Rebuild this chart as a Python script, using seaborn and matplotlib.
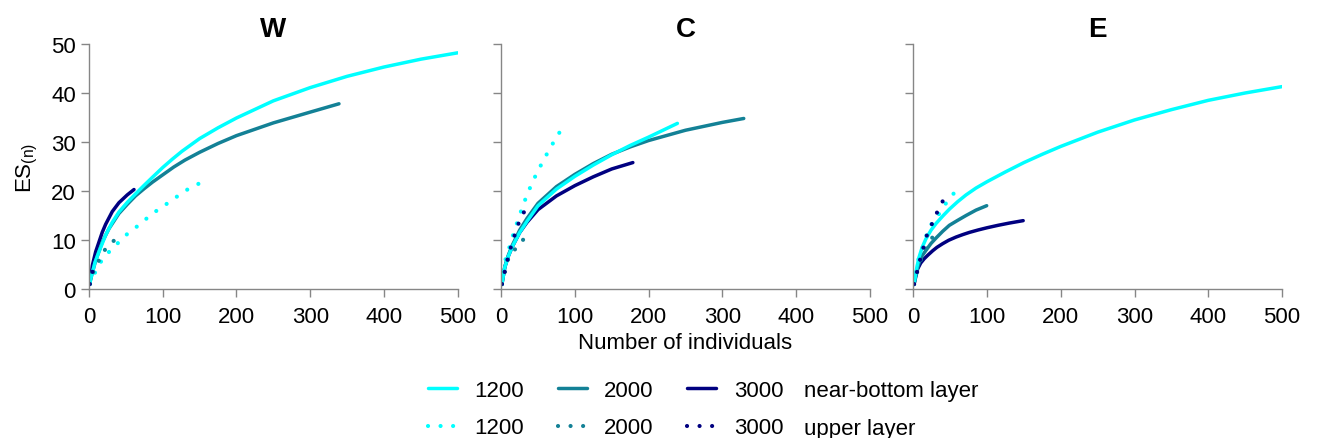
import numpy as np
import pandas as pd
import seaborn as sns
import matplotlib
matplotlib.use("Agg")
import matplotlib.pyplot as plt
from matplotlib.lines import Line2D

sns.set_style("ticks")
plt.rcParams['font.family'] = ['Liberation Sans', 'DejaVu Sans']
plt.rcParams['mathtext.fontset'] = 'custom'
plt.rcParams['mathtext.rm'] = 'Liberation Sans'
plt.rcParams['mathtext.it'] = 'Liberation Sans:italic'
plt.rcParams['text.color'] = 'black'
plt.rcParams['axes.labelcolor'] = 'black'

# colours per sampling depth
depths = ["1200", "2000", "3000"]
colors = {"1200": "#00ffff", "2000": "#138196", "3000": "#000080"}
panels = ["W", "C", "E"]

# ---- panel W ----
w_1200_nb_n = [1, 2, 5, 8, 13.5, 22.5, 31.5, 40.5, 52, 63, 75, 86, 100, 113, 126, 150, 175, 200, 250, 300, 350, 400, 450, 500]
w_1200_nb_y = [1, 1.9, 3.6, 5.4, 7.6, 11.0, 13.6, 15.7, 17.7, 19.4, 21.2, 22.8, 24.8, 26.5, 28.1, 30.7, 32.9, 34.9, 38.4, 41.1, 43.4, 45.3, 46.9, 48.2]
w_2000_nb_n = [1, 2, 5, 9, 18, 27, 40.5, 52, 63, 75, 86, 100, 115, 130, 150, 175, 200, 250, 300, 339]
w_2000_nb_y = [1, 1.9, 3.6, 5.8, 9.6, 12.3, 15.4, 17.3, 19.0, 20.5, 21.8, 23.3, 24.9, 26.3, 27.9, 29.7, 31.3, 33.9, 36.1, 37.8]
w_3000_nb_n = [1, 2, 4.5, 9, 13.5, 18, 22.5, 31.5, 40.5, 51.8, 61]
w_3000_nb_y = [1, 2.0, 4.8, 7.6, 9.6, 11.6, 13.2, 15.8, 17.6, 19.2, 20.3]
w_1200_up_n = [1, 8, 15.8, 26, 38, 50, 63, 75.7, 89, 102.7, 116, 129.7, 145, 160]
w_1200_up_y = [1, 3.3, 5.5, 7.4, 9.2, 11.0, 12.5, 14.1, 15.7, 17.1, 18.5, 20.0, 21.2, 22.35]
w_2000_up_n = [1, 6, 12.6, 21, 32.4, 46]
w_2000_up_y = [1, 3.6, 5.6, 7.9, 9.7, 11.3]
w_3000_up_n = [1, 5, 10]
w_3000_up_y = [1, 3.8, 5.5]

# ---- panel C ----
c_1200_nb_n = [1, 2, 5, 10, 15, 25, 35, 50, 75, 100, 125, 150, 175, 200, 239]
c_1200_nb_y = [1, 1.9, 4.5, 6.8, 8.6, 11.5, 13.8, 17.0, 20.4, 23.0, 25.3, 27.4, 29.3, 31.0, 33.8]
c_2000_nb_n = [1, 2, 5, 10, 15, 25, 35, 50, 75, 100, 125, 150, 175, 200, 250, 300, 329]
c_2000_nb_y = [1, 1.9, 4.6, 7.0, 8.9, 12.0, 14.4, 17.5, 20.9, 23.4, 25.6, 27.5, 29.0, 30.3, 32.4, 34.0, 34.8]
c_3000_nb_n = [1, 2, 5, 10, 15, 25, 35, 50, 75, 100, 125, 150, 178.6]
c_3000_nb_y = [1, 1.9, 4.5, 6.8, 8.6, 11.5, 13.6, 16.2, 19.0, 21.1, 22.9, 24.5, 25.8]
c_1200_up_n = [1, 5.4, 10.9, 15.4, 20.4, 25.8, 31.7, 38.1, 44.9, 52.6, 60.3, 68.5, 77.1, 86.6]
c_1200_up_y = [1, 5.8, 8.4, 10.7, 13.0, 15.4, 17.9, 20.3, 22.6, 24.9, 27.1, 29.3, 31.5, 33.6]
c_2000_up_n = [1, 8.6, 17.7, 28.6, 40.3]
c_2000_up_y = [1, 5.8, 7.9, 9.9, 11.4]
c_3000_up_n = [1, 10, 22.2, 29, 37.2]
c_3000_up_y = [1, 7.0, 12.9, 15.2, 17.3]

# ---- panel E ----
e_1200_nb_n = [1, 2, 5, 8, 12, 17, 24, 31, 40, 49, 60, 71.5, 85, 100, 125, 150, 175, 200, 250, 300, 350, 400, 450, 500]
e_1200_nb_y = [1, 1.9, 4.6, 6.6, 8.5, 10.2, 12.0, 13.4, 14.9, 16.3, 17.8, 19.2, 20.6, 21.9, 23.9, 25.8, 27.5, 29.1, 32.0, 34.5, 36.6, 38.5, 40.0, 41.3]
e_2000_nb_n = [1, 2, 4, 8.1, 12, 17.2, 24, 30.8, 40, 48.9, 60, 71.5, 85, 99.5]
e_2000_nb_y = [1, 1.8, 3.4, 5.5, 6.8, 7.9, 9.3, 10.4, 11.8, 13.0, 14.0, 15.0, 16.1, 17.0]
e_3000_nb_n = [1, 2, 3, 5.9, 10, 14.9, 20, 26.2, 32, 39.8, 48, 57.9, 67, 76, 88, 100, 115, 130, 149]
e_3000_nb_y = [1, 1.6, 2.3, 4.1, 5.3, 6.2, 6.95, 7.8, 8.5, 9.25, 9.95, 10.6, 11.1, 11.55, 12.05, 12.5, 13.0, 13.45, 13.95]
e_1200_up_n = [1, 7.2, 12.7, 18.1, 24.9, 35.3, 44.3, 54.8, 66.1]
e_1200_up_y = [1, 6.3, 8.5, 11.1, 13.3, 15.4, 17.5, 19.5, 21.3]
e_2000_up_n = [1, 8, 18, 27, 35.3]
e_2000_up_y = [1, 5.2, 8.6, 10.8, 12.4]
e_3000_up_n = [1, 10, 18, 25.3, 32.1, 39.8]
e_3000_up_y = [1, 6.5, 10.8, 13.3, 15.6, 17.9]

series = {
    ("W", "1200", "near-bottom layer"): (w_1200_nb_n, w_1200_nb_y),
    ("W", "2000", "near-bottom layer"): (w_2000_nb_n, w_2000_nb_y),
    ("W", "3000", "near-bottom layer"): (w_3000_nb_n, w_3000_nb_y),
    ("W", "1200", "upper layer"): (w_1200_up_n, w_1200_up_y),
    ("W", "2000", "upper layer"): (w_2000_up_n, w_2000_up_y),
    ("W", "3000", "upper layer"): (w_3000_up_n, w_3000_up_y),
    ("C", "1200", "near-bottom layer"): (c_1200_nb_n, c_1200_nb_y),
    ("C", "2000", "near-bottom layer"): (c_2000_nb_n, c_2000_nb_y),
    ("C", "3000", "near-bottom layer"): (c_3000_nb_n, c_3000_nb_y),
    ("C", "1200", "upper layer"): (c_1200_up_n, c_1200_up_y),
    ("C", "2000", "upper layer"): (c_2000_up_n, c_2000_up_y),
    ("C", "3000", "upper layer"): (c_3000_up_n, c_3000_up_y),
    ("E", "1200", "near-bottom layer"): (e_1200_nb_n, e_1200_nb_y),
    ("E", "2000", "near-bottom layer"): (e_2000_nb_n, e_2000_nb_y),
    ("E", "3000", "near-bottom layer"): (e_3000_nb_n, e_3000_nb_y),
    ("E", "1200", "upper layer"): (e_1200_up_n, e_1200_up_y),
    ("E", "2000", "upper layer"): (e_2000_up_n, e_2000_up_y),
    ("E", "3000", "upper layer"): (e_3000_up_n, e_3000_up_y),
}

rows = []
for (panel, depth, layer), (ns, ys) in series.items():
    for n, y in zip(ns, ys):
        rows.append({"panel": panel, "depth": depth, "layer": layer, "n": n, "es": y})
df = pd.DataFrame(rows)

dot_style = (0, (0.01, 3))
gray = "#868686"

fig, axes = plt.subplots(1, 3, figsize=(13.17, 4.39), dpi=100)
fig.subplots_adjust(left=0.0676, right=0.9734, bottom=0.3394, top=0.8975, wspace=0.118)

for ax, panel in zip(axes, panels):
    sub = df[df.panel == panel]
    nb = sub[sub.layer == "near-bottom layer"]
    up = sub[sub.layer == "upper layer"]
    sns.lineplot(data=nb, x="n", y="es", hue="depth", hue_order=["3000", "2000", "1200"],
                 palette=colors, estimator=None, sort=False, lw=2.5, legend=False, ax=ax)
    sns.lineplot(data=up, x="n", y="es", hue="depth", hue_order=["1200", "2000", "3000"],
                 palette=colors, estimator=None, sort=False, lw=3, linestyle=dot_style,
                 dash_capstyle="round", legend=False, ax=ax)
    ax.set_xlim(0, 500)
    ax.set_ylim(0, 50)
    ax.set_xticks(range(0, 501, 100))
    ax.set_yticks(range(0, 51, 10))
    ax.set_title(panel, fontsize=20, fontweight="bold", pad=6)
    ax.set_xlabel("")
    ax.set_ylabel("")
    sns.despine(ax=ax)
    for sp in ["left", "bottom"]:
        ax.spines[sp].set_color(gray)
        ax.spines[sp].set_linewidth(1)
    ax.tick_params(colors=gray, labelcolor="black", labelsize=16, length=6, width=1)
    ax.tick_params(axis="x", pad=6)
    ax.tick_params(axis="y", pad=3.5)
    if panel != "W":
        ax.tick_params(axis="y", labelleft=False)

axes[0].set_ylabel("ES$_{\\mathrm{(n)}}$", fontsize=16, labelpad=8)
axes[1].set_xlabel("Number of individuals", fontsize=16, labelpad=4)

handles = []
labels = []
for d in depths:
    handles.append(Line2D([], [], color=colors[d], lw=2.5))
    labels.append(d)
    handles.append(Line2D([], [], color=colors[d], lw=3, linestyle=dot_style, dash_capstyle="round"))
    labels.append(d)

fig.legend(handles, labels, ncol=3, loc="upper left", bbox_to_anchor=(428 / 1317, 1 - 381 / 439),
           frameon=False, fontsize=16, handlelength=1.3, handletextpad=0.8, columnspacing=1.5,
           labelspacing=0.74, borderpad=0, borderaxespad=0)
fig.text(804 / 1317, 1 - 397 / 439, "near-bottom layer", fontsize=16, va="baseline")
fig.text(804 / 1317, 1 - 435 / 439, "upper layer", fontsize=16, va="baseline")

fig.savefig("out.png", dpi=100)
